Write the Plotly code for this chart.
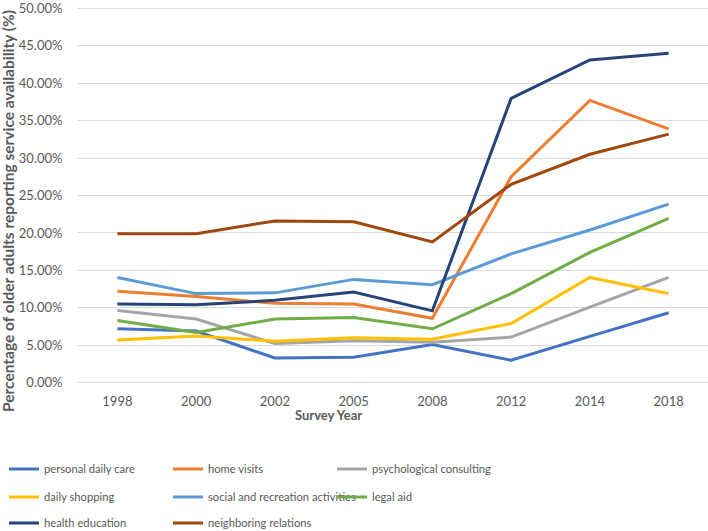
import plotly.graph_objects as go

years = ["1998", "2000", "2002", "2005", "2008", "2012", "2014", "2018"]

personal_daily_care = [7.2, 6.9, 3.3, 3.4, 5.1, 3.0, 6.2, 9.35]
home_visits = [12.2, 11.5, 10.6, 10.5, 8.6, 27.5, 37.7, 33.9]
psychological_consulting = [9.66, 8.5, 5.25, 5.6, 5.4, 6.1, 10.1, 14.06]
daily_shopping = [5.7, 6.25, 5.55, 6.0, 5.8, 7.9, 14.06, 11.9]
social_recreation = [14.06, 11.9, 12.0, 13.8, 13.1, 17.2, 20.4, 23.85]
legal_aid = [8.3, 6.7, 8.5, 8.7, 7.2, 11.9, 17.4, 21.96]
health_education = [10.5, 10.4, 11.0, 12.1, 9.6, 37.96, 43.1, 44.0]
neighboring_relations = [19.9, 19.9, 21.6, 21.5, 18.8, 26.5, 30.5, 33.2]

y_ticks = [0, 5, 10, 15, 20, 25, 30, 35, 40, 45, 50]
y_tick_labels = ["0.00%", "5.00%", "10.00%", "15.00%", "20.00%", "25.00%",
                 "30.00%", "35.00%", "40.00%", "45.00%", "50.00%"]

series = [
    ("personal daily care", personal_daily_care, "#4472C4", "legend"),
    ("home visits", home_visits, "#ED7D31", "legend"),
    ("psychological consulting", psychological_consulting, "#A5A5A5", "legend"),
    ("daily shopping", daily_shopping, "#FFC000", "legend2"),
    ("social and recreation activities", social_recreation, "#5B9BD5", "legend2"),
    ("legal aid", legal_aid, "#70AD47", "legend2"),
    ("health education", health_education, "#264478", "legend3"),
    ("neighboring relations", neighboring_relations, "#9E480E", "legend3"),
]

FONT = "Lato"
TXT = "#595959"

fig = go.Figure()
for name, vals, color, lg in series:
    fig.add_trace(go.Scatter(x=years, y=vals, name=name, mode="lines",
                             line=dict(color=color, width=3), legend=lg))

W, H = 708, 531
L, R, T, B = 78, 0, 6, 146
pw, ph = W - L - R, H - T - B
Y0, Y1 = -0.3, 50.3

def px_x(p):
    return (p - L) / pw

def px_y(p):
    return (H - B - p) / ph

leg_common = dict(orientation="h", entrywidth=119, entrywidthmode="pixels",
                  font=dict(family=FONT, size=11.2, color=TXT),
                  bgcolor="rgba(0,0,0,0)", xanchor="left", yanchor="middle",
                  x=px_x(4))

fig.update_layout(
    width=W, height=H,
    margin=dict(l=L, r=R, t=T, b=B, autoexpand=False),
    paper_bgcolor="white", plot_bgcolor="white",
    font=dict(family=FONT, color=TXT),
    legend=dict(**leg_common, y=px_y(469)),
    legend2=dict(**leg_common, y=px_y(497)),
    legend3=dict(**leg_common, y=px_y(523)),
    xaxis=dict(type="category", range=[-0.5, 7.5], showgrid=False, showline=False,
               zeroline=False, ticks="outside", ticklen=4, tickcolor="rgba(0,0,0,0)",
               tickfont=dict(family=FONT, size=13, color=TXT)),
    yaxis=dict(range=[Y0, Y1], tickvals=y_ticks, ticktext=y_tick_labels,
               showgrid=True, gridcolor="#D9D9D9", gridwidth=1, zeroline=False,
               showline=False, ticks="outside", ticklen=12, tickcolor="rgba(0,0,0,0)",
               ticklabeloverflow="allow",
               tickfont=dict(family=FONT, size=13, color=TXT)),
    annotations=[
        dict(text="<b>Survey Year</b>", xref="paper", yref="paper",
             x=px_x(328), y=px_y(415), xanchor="center", yanchor="middle",
             showarrow=False, font=dict(family=FONT, size=13, color=TXT)),
        dict(text="<b>Percentage of older adults reporting service availability (%)</b>",
             xref="paper", yref="paper", x=px_x(8), y=px_y(211), textangle=-90,
             xanchor="center", yanchor="middle", showarrow=False,
             font=dict(family=FONT, size=15.5, color=TXT)),
    ],
)

fig.write_html("out.html")
